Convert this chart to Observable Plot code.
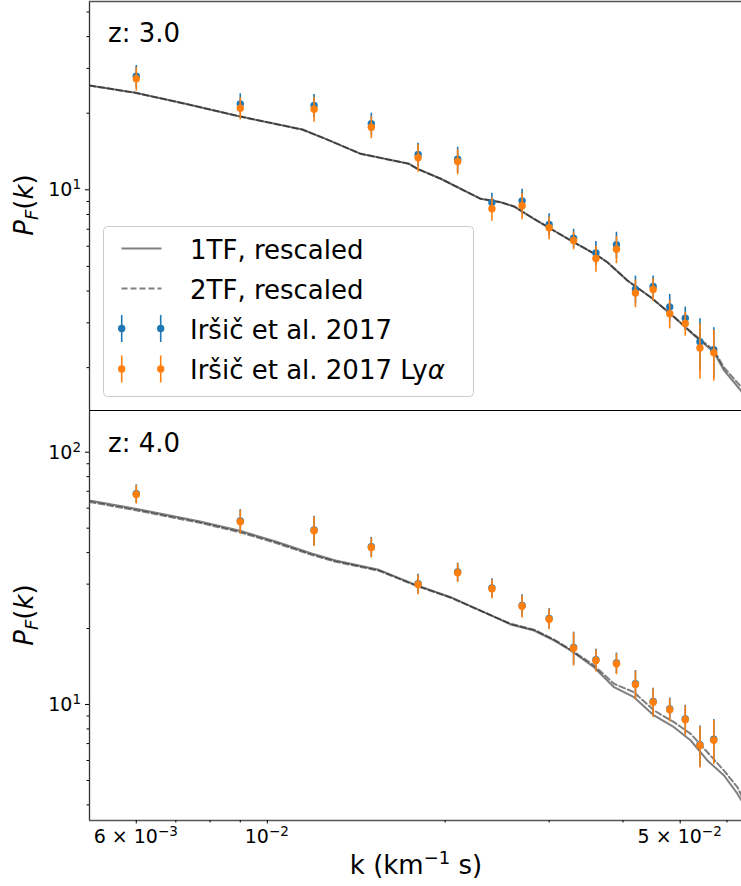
<!DOCTYPE html>
<html>
<head>
<meta charset="utf-8">
<script src="https://cdn.jsdelivr.net/npm/d3@7"></script>
<script src="https://cdn.jsdelivr.net/npm/@observablehq/plot@0.6"></script>
<style>
  body { margin: 0; background: #fff; }
  #chart { width: 741px; height: 886px; overflow: hidden; }
  #chart svg { display: block; }
</style>
</head>
<body>
<div id="chart"></div>
<script>
// ---------------- data ----------------
const kData = [0.006, 0.009, 0.012, 0.015, 0.018, 0.021, 0.024, 0.027, 0.030, 0.033, 0.036, 0.039, 0.042, 0.045, 0.048, 0.051, 0.054, 0.057];

// z = 3.0
const pfIrsic_z3 = [27.95, 21.77, 21.44, 18.17, 13.76, 13.19, 8.92, 9.05, 7.31, 6.45, 5.65, 6.08, 4.07, 4.17, 3.46, 3.13, 2.53, 2.35];
const errIrsic_z3 = [2.84, 2.06, 2.24, 1.83, 1.48, 1.51, 0.78, 1.00, 0.74, 0.55, 0.61, 0.73, 0.51, 0.41, 0.42, 0.33, 0.585, 0.52];
const pfLya_z3 = [27.30, 20.92, 20.73, 17.62, 13.36, 12.92, 8.42, 8.65, 7.09, 6.32, 5.37, 5.84, 3.93, 4.06, 3.26, 2.98, 2.39, 2.29];
const errLya_z3 = [2.90, 2.08, 2.30, 1.75, 1.63, 1.47, 0.89, 1.03, 0.73, 0.51, 0.63, 0.72, 0.49, 0.41, 0.42, 0.32, 0.585, 0.52];

const kModel_z3 = [0.005, 0.00598, 0.00727, 0.00895, 0.01146, 0.01255, 0.01439, 0.01737, 0.01795, 0.01966, 0.02297, 0.02483, 0.02616, 0.02828, 0.03018, 0.03305, 0.03621, 0.03765, 0.0407, 0.04457, 0.04881, 0.05277, 0.05704, 0.05932, 0.06329, 0.0635];
const pf1TF_z3 = [25.7, 24.05, 21.77, 19.46, 17.25, 15.86, 13.85, 12.65, 12.09, 11.05, 9.22, 8.94, 8.60, 7.69, 7.03, 6.22, 5.52, 5.19, 4.40, 3.78, 3.16, 2.68, 2.30, 1.95, 1.63, 1.61];
const pf2TF_z3 = [25.7, 24.05, 21.77, 19.46, 17.25, 15.86, 13.85, 12.65, 12.09, 11.05, 9.22, 8.94, 8.60, 7.69, 7.03, 6.22, 5.52, 5.19, 4.40, 3.78, 3.17, 2.70, 2.34, 2.00, 1.69, 1.67];

// z = 4.0
const pfIrsic_z4 = [68.5, 53.4, 49.2, 42.2, 30.1, 33.5, 29.0, 24.7, 21.95, 16.85, 15.06, 14.62, 12.09, 10.29, 9.61, 8.77, 6.93, 7.28];
const errIrsic_z4 = [5.7, 5.8, 6.5, 3.8, 2.7, 2.85, 2.5, 2.5, 2.0, 2.5, 1.5, 1.37, 1.55, 1.32, 1.0, 1.16, 1.28, 1.43];
const pfLya_z4 = [67.97, 53.0, 48.8, 41.9, 29.9, 33.3, 28.75, 24.5, 21.78, 16.72, 14.94, 14.50, 12.0, 10.21, 9.53, 8.70, 6.88, 7.22];
const errLya_z4 = [5.7, 5.8, 6.5, 3.8, 2.7, 2.85, 2.5, 2.5, 2.0, 2.5, 1.5, 1.37, 1.55, 1.32, 1.0, 1.16, 1.28, 1.43];

const kModel_z4 = [0.005, 0.005984, 0.007659, 0.008951, 0.01033, 0.01192, 0.01305, 0.01545, 0.01783, 0.02044, 0.02327, 0.02582, 0.02828, 0.03057, 0.03263, 0.03573, 0.03863, 0.04176, 0.04515, 0.04881, 0.0521, 0.05559, 0.05932, 0.06249, 0.0635];
const pf1TF_z4 = [64.4, 59.7, 53.3, 48.96, 44.27, 39.57, 37.23, 34.19, 29.81, 26.63, 23.22, 20.75, 19.65, 17.94, 16.37, 14.05, 11.71, 10.69, 9.05, 8.13, 7.20, 6.00, 5.23, 4.43, 4.16];
const pf2TF_z4 = [63.5, 58.9, 52.6, 48.3, 43.7, 39.1, 36.8, 33.9, 29.6, 26.5, 23.2, 20.9, 19.8, 18.1, 16.5, 14.3, 12.08, 11.19, 9.47, 8.51, 7.65, 6.47, 5.47, 4.70, 4.36];

// axes
const xDomain = [0.005, 0.0635];
const xLabeledTicks = [0.006, 0.01, 0.05];
const xLabelBase = ["6 \u00d7 10", "10", "5 \u00d7 10"];
const xLabelExp = ["\u22123", "\u22122", "\u22122"];
const xMinorTicks = [0.007, 0.008, 0.009, 0.02, 0.03, 0.04, 0.06];
const yDomain_z3 = [1.357, 54.96];
const yMajor_z3 = [10];
const yMinor_z3 = [2, 3, 4, 5, 6, 7, 8, 9, 20, 30, 40, 50];
const yDomain_z4 = [3.469, 145];
const yMajor_z4 = [10, 100];
const yMinor_z4 = [4, 5, 6, 7, 8, 9, 20, 30, 40, 50, 60, 70, 80, 90];
const redshiftLabels = ["z: 3.0", "z: 4.0"];
const legendLabels = ["1TF, rescaled", "2TF, rescaled", "Ir\u0161i\u010d et al. 2017", "Ir\u0161i\u010d et al. 2017 Ly"];

const BLUE = "#1f77b4", ORANGE = "#ff7f0e";
const FONT = "DejaVu Sans";
const TICK_FS = 19, SUP_FS = 13.5;

// ---------------- helpers ----------------
function scaleFn(svg, name) {
  const s = svg.scale(name);
  if (s && typeof s.apply === "function") return v => s.apply(v);
  return d3.scaleLog(s.domain, s.range);
}

function supText(parent, x, y, anchor, base, exp) {
  const t = parent.append("text").attr("x", x).attr("y", y).attr("text-anchor", anchor)
    .attr("font-family", FONT).attr("font-size", TICK_FS).attr("fill", "black");
  t.append("tspan").text(base);
  t.append("tspan").attr("dy", -7).attr("font-size", SUP_FS).text(exp);
  return t;
}

function panel(opts) {
  const pts = (ys, errs) => kData.map((k, i) => ({ k, v: ys[i], lo: ys[i] - errs[i], hi: ys[i] + errs[i] }));
  const blue = pts(opts.blue, opts.blueErr);
  const orange = pts(opts.orange, opts.orangeErr);
  const m1 = opts.kModel.map((k, i) => ({ k, v: opts.pf1[i] }));
  const m2 = opts.kModel.map((k, i) => ({ k, v: opts.pf2[i] }));
  const marks = [
    Plot.line(m1, { x: "k", y: "v", stroke: "black", strokeOpacity: 0.5, strokeWidth: 2, clip: true }),
    Plot.line(m2, { x: "k", y: "v", stroke: "black", strokeOpacity: 0.5, strokeWidth: 2, strokeDasharray: "6,3", clip: true }),
    Plot.ruleX(blue, { x: "k", y1: "lo", y2: "hi", stroke: BLUE, strokeWidth: 1.6 }),
    Plot.dot(blue, { x: "k", y: "v", r: 3.7, fill: BLUE, stroke: null }),
    Plot.ruleX(orange, { x: "k", y1: "lo", y2: "hi", stroke: ORANGE, strokeWidth: 1.6 }),
    Plot.dot(orange, { x: "k", y: "v", r: 3.7, fill: ORANGE, stroke: null }),
    Plot.ruleX([xDomain[0]], { stroke: "#333", strokeWidth: 1.3 }),
    Plot.axisY({ ticks: opts.yMajor, tickSize: 4, label: null, tickFormat: () => "" }),
    Plot.axisY({ ticks: opts.yMinor, tickSize: 2.5, label: null, tickFormat: () => "" })
  ];
  if (opts.frameTop) marks.push(Plot.ruleY([opts.yDomain[1]], { stroke: "#555", strokeWidth: 1.5 }));
  if (opts.frameBottom) marks.push(Plot.ruleY([opts.yDomain[0]], { stroke: opts.bottomColor, strokeWidth: opts.bottomWidth }));
  if (opts.showX) {
    marks.push(Plot.axisX({ ticks: xLabeledTicks, tickSize: 3.5, label: null, tickFormat: () => "" }));
    marks.push(Plot.axisX({ ticks: xMinorTicks, tickSize: 2.5, label: null, tickFormat: () => "" }));
  } else {
    marks.push(Plot.axisX({ ticks: [], label: null }));
  }
  const svg = Plot.plot({
    width: 741, height: opts.height,
    marginLeft: 89, marginRight: 0, marginTop: opts.marginTop, marginBottom: opts.marginBottom,
    style: { fontFamily: FONT, fontSize: TICK_FS + "px", background: "white", color: "black", overflow: "visible" },
    x: { type: "log", domain: xDomain },
    y: { type: "log", domain: opts.yDomain },
    marks
  });
  // tick labels placed through the plot's own scales
  const sy = scaleFn(svg, "y");
  const g = d3.select(svg).append("g");
  opts.yMajor.forEach(v => {
    supText(g, 81, sy(v) + 7, "end", "10", String(Math.round(Math.log10(v))));
  });
  if (opts.showX) {
    const sx = scaleFn(svg, "x");
    const yBase = opts.height - opts.marginBottom + 23;
    xLabeledTicks.forEach((v, i) => {
      supText(g, sx(v), yBase, "middle", xLabelBase[i], xLabelExp[i]);
    });
  }
  return svg;
}

function yLabel(svg, cy) {
  const t = d3.select(svg).append("text")
    .attr("transform", `translate(33,${cy}) rotate(-90)`)
    .attr("text-anchor", "middle")
    .attr("font-family", FONT).attr("font-size", 26).attr("fill", "black");
  t.append("tspan").attr("font-style", "italic").text("P");
  t.append("tspan").attr("font-style", "italic").attr("font-size", 18).attr("dy", 5).text("F");
  t.append("tspan").attr("dy", -5).text("(");
  t.append("tspan").attr("font-style", "italic").text("k");
  t.append("tspan").text(")");
}

function zLabel(svg, y, text) {
  d3.select(svg).append("text").attr("x", 108).attr("y", y).attr("text-anchor", "start")
    .attr("font-family", FONT).attr("font-size", 26).attr("fill", "black").text(text);
}

// ---------------- build ----------------
const chart = document.getElementById("chart");

const topSvg = panel({
  height: 411, marginTop: 1, marginBottom: 1,
  yDomain: yDomain_z3, yMajor: yMajor_z3, yMinor: yMinor_z3,
  kModel: kModel_z3, pf1: pf1TF_z3, pf2: pf2TF_z3,
  blue: pfIrsic_z3, blueErr: errIrsic_z3, orange: pfLya_z3, orangeErr: errLya_z3,
  frameTop: true, frameBottom: true, bottomColor: "black", bottomWidth: 1.2, showX: false
});
yLabel(topSvg, 205);
zLabel(topSvg, 42, redshiftLabels[0]);

// legend
{
  const g = d3.select(topSvg).append("g").attr("font-family", FONT).attr("font-size", 26).attr("text-anchor", "start");
  g.append("rect").attr("x", 103.5).attr("y", 226.5).attr("width", 370).attr("height", 170)
    .attr("rx", 4).attr("fill", "white").attr("fill-opacity", 0.8).attr("stroke", "#cccccc").attr("stroke-width", 1);
  g.append("line").attr("x1", 121.5).attr("x2", 161.5).attr("y1", 248.5).attr("y2", 248.5)
    .attr("stroke", "black").attr("stroke-opacity", 0.5).attr("stroke-width", 2);
  g.append("line").attr("x1", 121.5).attr("x2", 161.5).attr("y1", 288.5).attr("y2", 288.5)
    .attr("stroke", "black").attr("stroke-opacity", 0.5).attr("stroke-width", 2).attr("stroke-dasharray", "6,3");
  [[BLUE, 328.5], [ORANGE, 369]].forEach(([c, y]) => {
    [121.7, 160.7].forEach(x => {
      g.append("line").attr("x1", x).attr("x2", x).attr("y1", y - 13.5).attr("y2", y + 13.5)
        .attr("stroke", c).attr("stroke-width", 1.6);
      g.append("circle").attr("cx", x).attr("cy", y).attr("r", 3.7).attr("fill", c);
    });
  });
  const ys = [259, 299, 339, 379];
  legendLabels.forEach((s, i) => {
    const t = g.append("text").attr("x", 190).attr("y", ys[i]).attr("fill", "black").text(s);
    if (i === 3) t.append("tspan").attr("font-style", "italic").text("\u03b1");
  });
}

const bottomSvg = panel({
  height: 475, marginTop: 0, marginBottom: 66,
  yDomain: yDomain_z4, yMajor: yMajor_z4, yMinor: yMinor_z4,
  kModel: kModel_z4, pf1: pf1TF_z4, pf2: pf2TF_z4,
  blue: pfIrsic_z4, blueErr: errIrsic_z4, orange: pfLya_z4, orangeErr: errLya_z4,
  frameTop: false, frameBottom: true, bottomColor: "#555", bottomWidth: 1.6, showX: true
});
yLabel(bottomSvg, 204);
zLabel(bottomSvg, 41, redshiftLabels[1]);
{
  const t = d3.select(bottomSvg).append("text").attr("x", 416).attr("y", 463)
    .attr("text-anchor", "middle").attr("font-family", FONT).attr("font-size", 26).attr("fill", "black");
  t.append("tspan").text("k (km");
  t.append("tspan").attr("dy", -10).attr("font-size", 18).text("\u22121");
  t.append("tspan").attr("dy", 10).text(" s)");
}

chart.appendChild(topSvg);
chart.appendChild(bottomSvg);
</script>
</body>
</html>
